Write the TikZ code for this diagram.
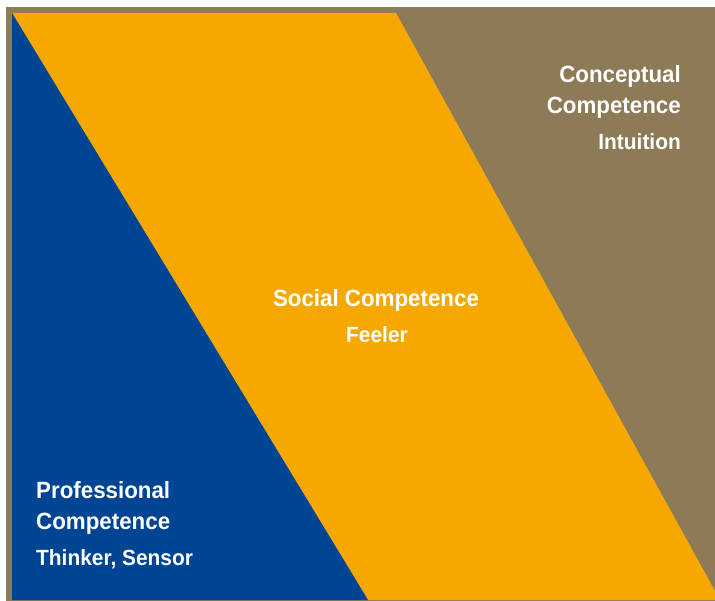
\documentclass[tikz,border=0pt]{standalone}
\usepackage{fontspec}
\setmainfont{Liberation Sans}[FakeStretch=0.95]

\definecolor{compblue}{RGB}{0,69,148}
\definecolor{comporange}{RGB}{246,168,0}
\definecolor{compbrown}{RGB}{141,123,88}

\begin{document}
\begin{tikzpicture}[x=1pt,y=-1pt,
    headtext/.style={text=white,inner sep=0pt,font=\bfseries\fontsize{23.5}{28}\selectfont},
    subtext/.style={headtext,font=\bfseries\fontsize{22}{26}\selectfont}]
  \useasboundingbox (0,0) rectangle (715,601);

  % frame and the three bands
  \fill[compbrown] (6,7) rectangle (715,601);
  \begin{scope}
    \clip (12,13) rectangle (715,600);
    \fill[comporange] (12,13) -- (396,13) -- (720,600) -- (368,600) -- cycle;
    \fill[compblue] (12,13) -- (368,600) -- (12,600) -- cycle;
  \end{scope}

  % professional
  \node[headtext,anchor=base west] (prof) at (36,498) {Professional};
  \node[headtext,anchor=base west] (profcomp) at (36,529) {Competence};
  \node[subtext,anchor=base west] (profsub) at (36,565) {Thinker, Sensor};
  % social
  \node[headtext,anchor=base] (social) at (376,307) {Social Competence};
  \node[subtext,anchor=base] (socialsub) at (377,343) {Feeler};
  % conceptual
  \node[headtext,anchor=base east] (concept) at (681,83) {Conceptual};
  \node[headtext,anchor=base east] (conceptcomp) at (681,114) {Competence};
  \node[subtext,anchor=base east] (conceptsub) at (681,150) {Intuition};
\end{tikzpicture}
\end{document}
